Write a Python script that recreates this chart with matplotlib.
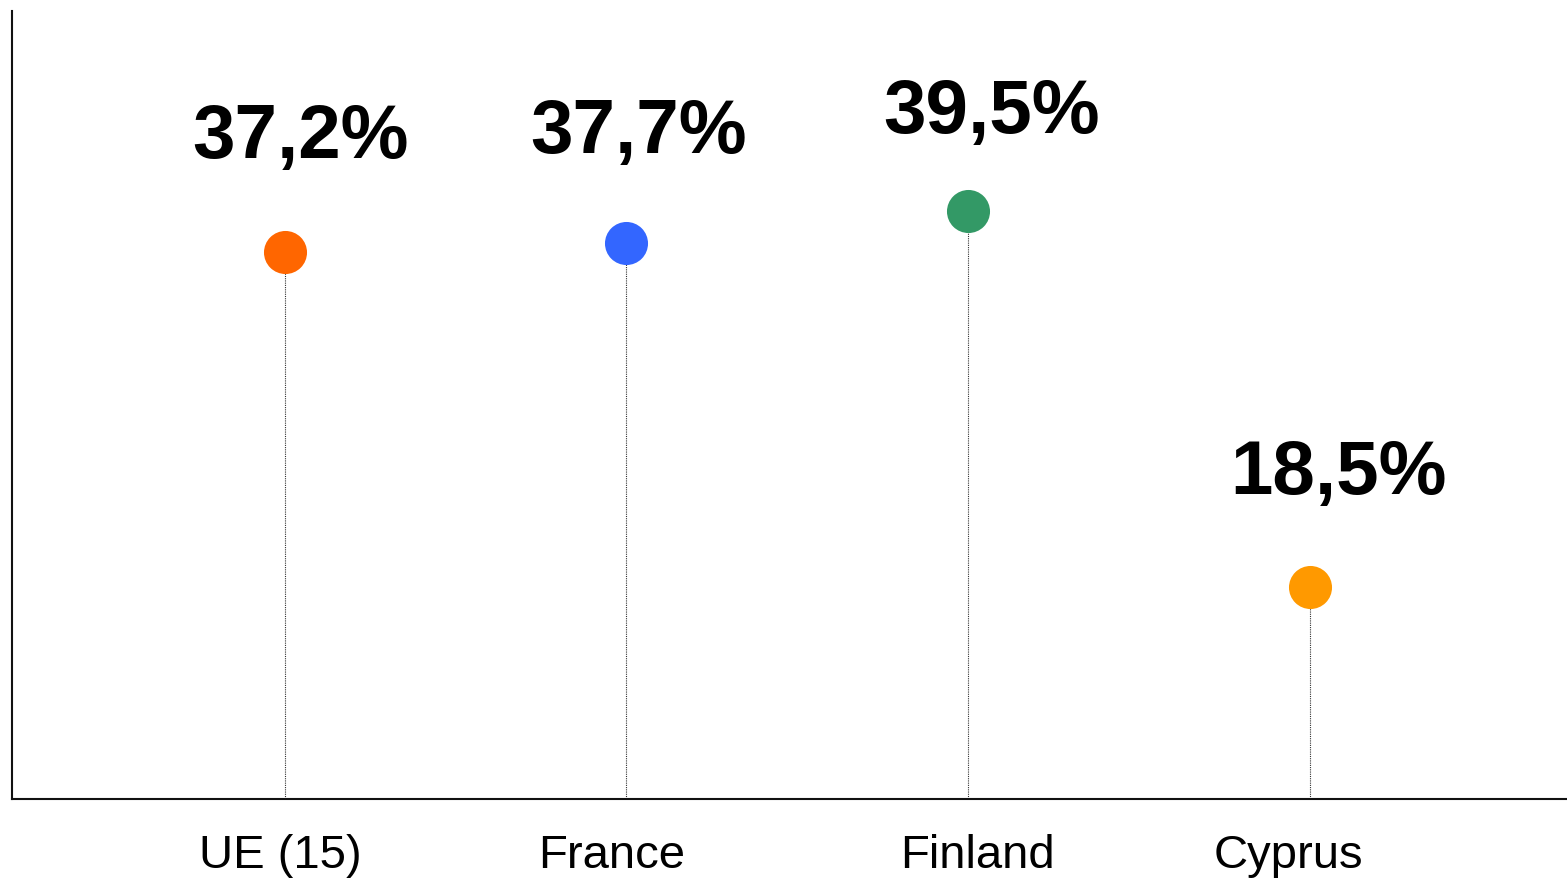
import matplotlib
matplotlib.use('Agg')
import matplotlib.pyplot as plt
import matplotlib.transforms as mtransforms
import numpy as np

plt.rcParams['font.family'] = ['Liberation Sans', 'DejaVu Sans']

# ── data ─────────────────────────────────────────────────────────────────────
countries = ['UE (15)', 'France', 'Finland', 'Cyprus']
values = [37.2, 37.7, 39.5, 18.5]
value_labels = ['37,2%', '37,7%', '39,5%', '18,5%']
dot_colors = ['#FF6600', '#3366FF', '#339966', '#FF9900']

# label nudges (pixels from dot centre): dx, dy to baseline
label_nudge = [(16, 94), (12, 90), (23, 78), (28, 93)]
# horizontal nudge of the category names (pixels)
tick_nudge = [-4, -15, 9, -22]

fig = plt.figure(figsize=(15.67, 8.8), dpi=100)
ax = fig.add_axes([12 / 1567, 81 / 880, 1 - 12 / 1567, (799 - 11) / 880])

x = np.arange(len(countries))

# dotted stems, then the dots on top
ax.vlines(x, 0, values, colors='#333333', linewidth=0.8,
          linestyles=(0, (1, 1)), zorder=2)
for xi, v, c in zip(x, values, dot_colors):
    ax.plot(xi, v, 'o', markersize=31, color=c, markeredgewidth=0, zorder=3)

for xi, v, lab, (dx, dy) in zip(x, values, value_labels, label_nudge):
    ax.annotate(lab, (xi, v), xytext=(dx, dy), textcoords='offset pixels',
                ha='center', va='baseline', fontsize=55, fontweight='bold',
                color='black')

ax.set_xlim(-0.797, 3.751)
ax.set_ylim(6.65, 50.67)

ax.set_xticks(x)
ax.set_xticklabels(countries, fontsize=34)
ax.tick_params(axis='x', length=0, pad=25)
ax.set_yticks([])
for tl, dx in zip(ax.get_xticklabels(), tick_nudge):
    tl.set_transform(tl.get_transform() +
                     mtransforms.ScaledTranslation(dx / 100, 0, fig.dpi_scale_trans))

for side in ('top', 'right'):
    ax.spines[side].set_visible(False)
for side in ('left', 'bottom'):
    ax.spines[side].set_linewidth(1.5)
    ax.spines[side].set_color('#111111')

fig.savefig('out.png', dpi=100, facecolor='white')
